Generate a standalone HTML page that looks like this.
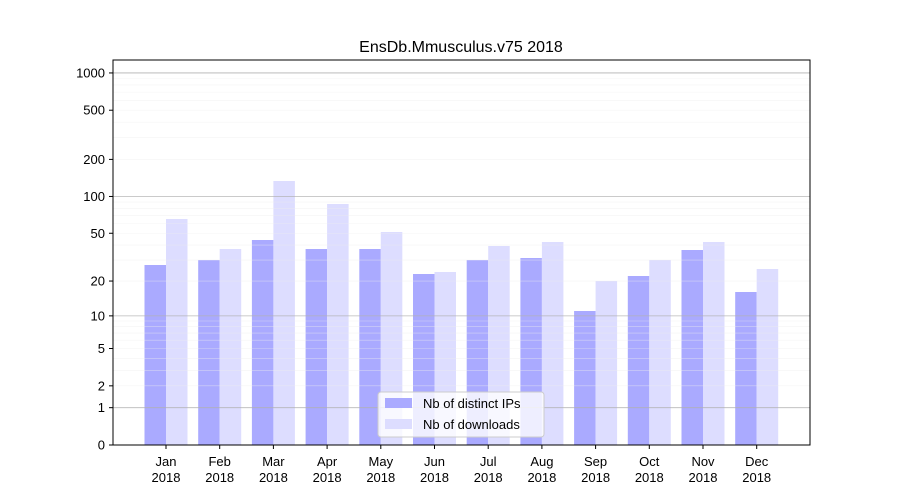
<!DOCTYPE html>
<html><head><meta charset="utf-8"><style>body{margin:0;background:#fff}svg{display:block}text{font-family:"Liberation Sans","DejaVu Sans",sans-serif;fill:#000}</style></head>
<body>
<svg width="900" height="500" viewBox="0 0 900 500" xmlns="http://www.w3.org/2000/svg">
<rect width="900" height="500" fill="#fff"/>
<g id="bars"></g>
<g id="grid"></g>
<rect x="113" y="60" width="697" height="385" fill="none" stroke="#000" stroke-width="1"/>
<g id="ticks" font-size="13"></g>
<text x="461" y="52" font-size="16" text-anchor="middle">EnsDb.Mmusculus.v75 2018</text>
<g>
<rect x="378" y="392" width="166" height="45" rx="3" fill="#fff" fill-opacity="0.8" stroke="#ccc"/>
<rect x="385" y="398" width="27" height="10" fill="#aaaaff"/>
<text x="423" y="408" font-size="13">Nb of distinct IPs</text>
<rect x="385" y="419" width="27" height="10" fill="#ddddff"/>
<text x="423" y="429" font-size="13">Nb of downloads</text>
</g>
<script>
const ns="http://www.w3.org/2000/svg";
function el(t,a,p){const e=document.createElementNS(ns,t);for(const k in a)e.setAttribute(k,a[k]);document.getElementById(p).appendChild(e);return e;}
const Y=v=>445-124*Math.log10(1+v);
for(let d of [1,10,100]){for(let m=1;m<10;m++){const v=d*m;const y=Y(v);el("line",{x1:113,x2:810,y1:y,y2:y,stroke:m==1?"#b0b0b0":"#ececec","stroke-width":m==1?0.8:0.6,"stroke-opacity":m==1?0.9:0.6},"grid");}}
el("line",{x1:113,x2:810,y1:Y(1000),y2:Y(1000),stroke:"#b0b0b0","stroke-width":0.8},"grid");
const tops=[[265,219],[260,249],[240,181],[249,204],[249,232],[274,272],[260,246],[258,242],[311,281],[276,260],[250,242],[292,269]];
const months=["Jan","Feb","Mar","Apr","May","Jun","Jul","Aug","Sep","Oct","Nov","Dec"];
for(let i=0;i<12;i++){const c=166+i*53.7;
el("rect",{x:c-21.5,y:tops[i][0],width:21.5,height:445-tops[i][0],fill:"#aaaaff"},"bars");
el("rect",{x:c,y:tops[i][1],width:21.5,height:445-tops[i][1],fill:"#ddddff"},"bars");
el("line",{x1:c,x2:c,y1:445,y2:449,stroke:"#000"},"ticks");
let t=el("text",{x:c,y:466,"text-anchor":"middle"},"ticks");t.textContent=months[i];
t=el("text",{x:c,y:482,"text-anchor":"middle"},"ticks");t.textContent="2018";}
for(const v of [0,1,2,5,10,20,50,100,200,500,1000]){const y=Y(v);
el("line",{x1:109,x2:113,y1:y,y2:y,stroke:"#000"},"ticks");
const t=el("text",{x:105,y:y+4.5,"text-anchor":"end"},"ticks");t.textContent=v;}
</script>
</svg>
</body></html>
